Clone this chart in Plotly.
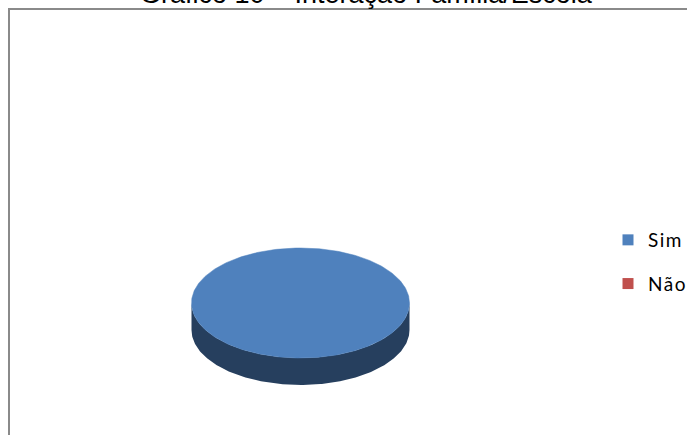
import numpy as np
import plotly.graph_objects as go

# Chart data
categories = ["Sim", "Não"]
values = [100, 0]
top_colors = ["#4F81BD", "#C0504D"]
side_colors = ["#263F5E", "#7A2E2C"]
title_text = "Gráfico 10 – Interação Família/Escola"

W, H = 687, 435

# 3D pie geometry (axis units = pixels)
cx, cy = 300.5, 303.0
rx, ry = 109.0, 55.0
depth = 27.0


def ellipse_pt(theta_deg, dy=0.0):
    t = np.radians(theta_deg)
    return cx + rx * np.sin(t), cy - ry * np.cos(t) + dy


fig = go.Figure()

total = float(sum(values))
start = 0.0
slices = []
for cat, v, ctop, cside in zip(categories, values, top_colors, side_colors):
    sweep = 360.0 * v / total
    slices.append((cat, start, start + sweep, ctop, cside))
    start += sweep

# side walls (visible front part: 90..270 degrees clockwise from 12 o'clock)
for cat, a0, a1, ctop, cside in slices:
    lo, hi = max(a0, 90.0), min(a1, 270.0)
    if hi <= lo:
        continue
    th = np.linspace(lo, hi, 200)
    xt, yt = ellipse_pt(th)
    xb, yb = ellipse_pt(th[::-1], depth)
    xs = np.concatenate([xt, xb, xt[:1]])
    ys = np.concatenate([yt, yb, yt[:1]])
    fig.add_trace(go.Scatter(x=xs, y=ys, mode="lines", fill="toself",
                             fillcolor=cside, line=dict(width=0, color=cside),
                             hoverinfo="skip", showlegend=False))

# top faces
for cat, a0, a1, ctop, cside in slices:
    if a1 <= a0:
        continue
    th = np.linspace(a0, a1, 400)
    xt, yt = ellipse_pt(th)
    if a1 - a0 < 360.0:
        xs = np.concatenate([[cx], xt, [cx]])
        ys = np.concatenate([[cy], yt, [cy]])
    else:
        xs, ys = xt, yt
    fig.add_trace(go.Scatter(x=xs, y=ys, mode="lines", fill="toself",
                             fillcolor=ctop, line=dict(width=0.5, color=ctop),
                             hoverinfo="skip", showlegend=False))

# legend entries
for i, (cat, ctop) in enumerate(zip(categories, top_colors)):
    fig.add_trace(go.Scatter(
        x=[None], y=[None], mode="markers", legendgroup=cat,
        name='<span style="letter-spacing:1.5px">' + cat + "</span>",
        marker=dict(symbol="square", size=11, color=ctop, line=dict(width=0)),
    ))

fig.add_annotation(
    x=366 / W, y=1 + 6.0 / H, xref="paper", yref="paper",
    text=title_text, showarrow=False, xanchor="center", yanchor="middle",
    font=dict(family="Liberation Sans, Arial, sans-serif", size=27, color="#000000"),
)

# chart area border
fig.add_shape(type="rect", xref="paper", yref="paper",
              x0=9 / W, y0=-0.1, x1=1.1, y1=1 - 9 / H,
              line=dict(color="#8A8A8A", width=2), fillcolor="rgba(0,0,0,0)")

fig.update_layout(
    width=W, height=H,
    margin=dict(l=0, r=0, t=0, b=0, autoexpand=False),
    paper_bgcolor="white", plot_bgcolor="white",
    xaxis=dict(range=[0, W], visible=False, fixedrange=True),
    yaxis=dict(range=[H, 0], visible=False, fixedrange=True),
    showlegend=True,
    legend=dict(
        x=608 / W, y=1 - 221 / H, xanchor="left", yanchor="top",
        font=dict(family="Lato, Calibri, sans-serif", size=19, color="#000000"),
        tracegroupgap=16, itemsizing="trace", bgcolor="rgba(0,0,0,0)",
    ),
)

fig.write_html("out.html")
